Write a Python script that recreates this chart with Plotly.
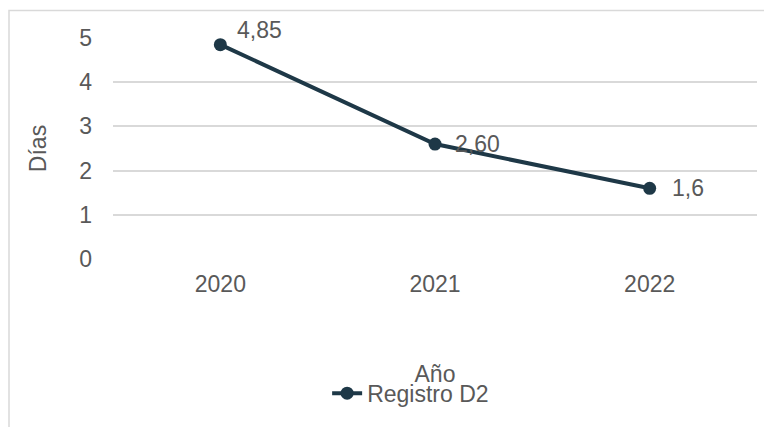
import plotly.graph_objects as go

years = ["2020", "2021", "2022"]
dias = [4.85, 2.60, 1.6]
labels = ["4,85", "2,60", "1,6"]
y_ticks = [0, 1, 2, 3, 4, 5]

line_color = "#1e3847"
text_color = "#595959"
font = "Liberation Sans, Arial, sans-serif"
fs = 23

fig = go.Figure()
fig.add_trace(go.Scatter(
    x=years,
    y=dias,
    mode="lines+markers",
    name="Registro D2",
    line=dict(color=line_color, width=4),
    marker=dict(color=line_color, size=13),
    cliponaxis=False,
))

# data labels, right of each point (first one sits a bit higher)
shifts = [(15, 15), (18, 0), (20, 0)]
for i, (y, t, (dx, dy)) in enumerate(zip(dias, labels, shifts)):
    fig.add_annotation(x=i, y=y, text=t, showarrow=False, xanchor="left",
                       xshift=dx, yshift=dy,
                       font=dict(size=fs, color=text_color, family=font))

# chart area frame (left and top edges visible)
fig.add_shape(type="rect", xref="paper", yref="paper",
              x0=-0.1615, x1=1.2, y0=-1.0, y1=1.125,
              line=dict(color="#d9d9d9", width=1.5), layer="below")

# page body adds 8px offset, so figure is 764x419
fig.update_layout(
    width=764, height=419,
    margin=dict(l=105, r=15, t=30, b=157),
    paper_bgcolor="white", plot_bgcolor="white",
    font=dict(family=font, size=fs, color=text_color),
    showlegend=True,
    legend=dict(orientation="h", x=0.3325, xanchor="left", y=-0.51, yanchor="top",
                font=dict(size=fs, color=text_color)),
    xaxis=dict(type="category", range=[-0.5, 2.5], showgrid=False,
               showline=False, ticks="", ticklabelstandoff=9, automargin=False,
               title=dict(text="Año", standoff=69, font=dict(size=fs))),
    yaxis=dict(range=[0, 5], tickvals=y_ticks, showgrid=True,
               gridcolor="#d9d9d9", gridwidth=1.5, zeroline=False,
               showline=False, ticklabelstandoff=20, automargin=False,
               title=dict(text="Días", standoff=26, font=dict(size=fs))),
)

fig.write_html("out.html")
